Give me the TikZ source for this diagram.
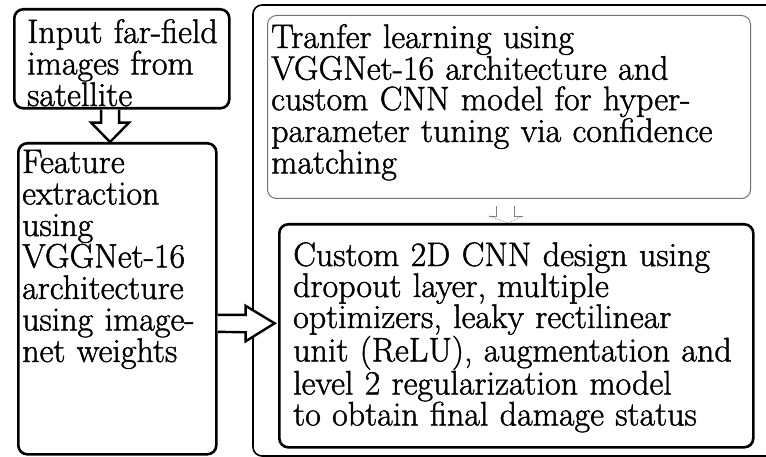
\documentclass[tikz,border=0pt]{standalone}
\usepackage{fontspec}
\setmainfont{Latin Modern Roman}[FakeBold=1.3]
\usetikzlibrary{calc}
\begin{document}
\begin{tikzpicture}[x=1pt,y=-1pt,
  thickbox/.style={draw=black,line width=2.6pt,rounded corners=9pt,fill=none},
  thinbox/.style={draw=black!55,line width=1pt,rounded corners=9pt},
  outerbox/.style={draw=black,line width=1.6pt,rounded corners=9pt},
  txt/.style={anchor=base west,inner sep=0pt,align=left,text width=520pt,text=black},
  blockarrow/.style={draw=black,line width=2.4pt,fill=white,line join=miter},
  smallarrow/.style={draw=black!50,line width=0.7pt}
]
\useasboundingbox (0,0) rectangle (766,457);
% outer frame
\draw[outerbox] (253,5) rectangle (800,456);
% boxes
\node[thickbox,minimum width=215pt,minimum height=99pt,anchor=north west] (in) at (13,8) {};
\node[thickbox,minimum width=198pt,minimum height=311pt,anchor=north west] (feat) at (17,142) {};
\node[thinbox,minimum width=483pt,minimum height=183pt,anchor=north west] (tl) at (267,15) {};
\node[thickbox,minimum width=474pt,minimum height=223pt,anchor=north west] (cnn) at (278,223) {};
% texts
\node[txt,font=\fontsize{34}{30}\selectfont] (tin) at (27,43) {Input far-field\\images from\\satellite};
\node[txt,font=\fontsize{34}{31.5}\selectfont] (tfeat) at (22,173) {Feature\\extraction\\using\\VGGNet-16\\architecture\\using image-\\net weights};
\node[txt,font=\fontsize{34}{30.5}\selectfont] (ttl) at (271,48) {Tranfer learning using\\VGGNet-16 architecture and\\custom CNN model for hyper-\\parameter tuning via confidence\\matching};
\node[txt,font=\fontsize{34}{31}\selectfont] (tcnn) at (293,266) {Custom 2D CNN design using\\dropout layer, multiple\\optimizers, leaky rectilinear\\unit (ReLU), augmentation and\\level 2 regularization model\\to obtain final damage status};
% down block arrow from input to feature
\coordinate (da) at ($(in.south west)!0.446!(in.south east)$);
\draw[blockarrow] ($(da)+(-9,0)$) -- ($(da)+(-9,13)$) -- ($(da)+(-19,13)$)
  -- (da |- feat.north) -- ($(da)+(19,13)$) -- ($(da)+(9,13)$) -- ($(da)+(9,0)$);
% right block arrow from feature to cnn
\coordinate (ra) at ($(feat.east)+(0,24.5)$);
\draw[blockarrow] (ra) ++(0,-8.5) -- ++(28,0) -- ++(0,-9) -- ($(ra)+(57,0)$)
  -- ($(ra)+(28,18)$) -- ++(0,-9) -- ($(ra)+(0,8.5)$);
% small arrow from tl to cnn
\coordinate (sa) at ($(tl.south west)!0.498!(tl.south east)$);
\draw[smallarrow] ($(sa)+(-12,7)$) -- ($(sa)+(-12,17)$) -- ($(sa)+(-19,17)$);
\draw[smallarrow] ($(sa)+(6,7)$) -- ($(sa)+(6,17)$) -- ($(sa)+(15,17)$);
\draw[smallarrow,densely dotted] ($(sa)+(-19,17)$) -- (sa |- cnn.north) -- ($(sa)+(15,17)$);
\end{tikzpicture}
\end{document}
